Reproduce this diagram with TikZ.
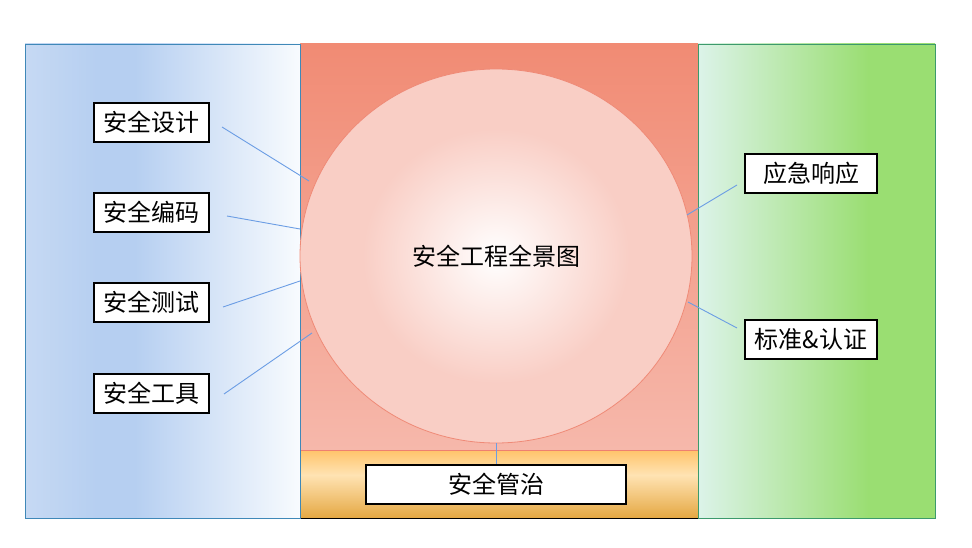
\documentclass[tikz,border=0pt]{standalone}
\usepackage{fontspec}
\setmainfont{Noto Sans CJK SC}
\usetikzlibrary{shapes.geometric}
\definecolor{lpA}{HTML}{C6D9F3}
\definecolor{lpB}{HTML}{B6CFF1}
\definecolor{lpC}{HTML}{F8FBFE}
\definecolor{rpA}{HTML}{DCF3E9}
\definecolor{rpB}{HTML}{9ADE72}
\definecolor{redtop}{HTML}{F18B74}
\definecolor{redbot}{HTML}{F6B8AB}
\definecolor{otop}{HTML}{FFC46A}
\definecolor{omid}{HTML}{FFE3B3}
\definecolor{obot}{HTML}{E5A843}
\definecolor{cedge}{HTML}{F9CEC5}
\definecolor{cborder}{HTML}{EF8A77}
\definecolor{lineblue}{HTML}{6B9DE4}
\definecolor{lborder}{HTML}{3F88B8}
\definecolor{rborder}{HTML}{3C9A6C}
\definecolor{divred}{HTML}{EE8070}
\pgfdeclarehorizontalshading{leftpanel}{100bp}{color(0bp)=(lpA); color(25bp)=(lpA); color(38bp)=(lpB); color(45bp)=(lpB); color(75bp)=(lpC); color(100bp)=(lpC)}
\pgfdeclarehorizontalshading{rightpanel}{100bp}{color(0bp)=(rpA); color(25bp)=(rpA); color(61bp)=(rpB); color(75bp)=(rpB); color(100bp)=(rpB)}
\pgfdeclareverticalshading{orangeband}{100bp}{color(0bp)=(obot); color(25bp)=(obot); color(56.6bp)=(omid); color(75bp)=(otop); color(100bp)=(otop)}
\pgfdeclareradialshading{bubble}{\pgfpoint{0bp}{0bp}}{color(0bp)=(white); color(17bp)=(cedge); color(25bp)=(cedge); color(50bp)=(cedge)}
\tikzset{
  labelbox/.style={draw=black, fill=white, line width=1.1pt, minimum height=39pt, inner sep=0pt, font=\fontsize{24}{28}\selectfont},
  link/.style={draw=lineblue, line width=0.9pt}
}
\begin{document}
\begin{tikzpicture}[x=1pt,y=-1pt]
\useasboundingbox (0,0) rectangle (972,548);
% middle panel
\path[top color=redtop, bottom color=redbot] (300,44) rectangle (698,450);
\path[shading=orangeband] (300,450) rectangle (698,518);
\draw[divred, line width=0.8pt] (300,450) -- (698,450);
\draw[black, line width=1pt] (300,518) -- (698,518);
% side panels
\draw[shading=leftpanel, draw=lborder, line width=0.9pt] (25,44) rectangle (300,518);
\draw[shading=rightpanel, draw=rborder, line width=0.9pt] (698,44) rectangle (935,518);
% hub
\node (hub) [ellipse, draw=cborder, line width=0.8pt, shading=bubble, minimum width=392pt, minimum height=374pt, inner sep=0pt, font=\fontsize{24}{28}\selectfont] at (496,256) {安全工程全景图};
% boxes
\node (design) [labelbox, minimum width=115pt] at (151.5,122.5) {安全设计};
\node (coding) [labelbox, minimum width=115pt] at (151.5,212.5) {安全编码};
\node (testing) [labelbox, minimum width=115pt] at (151.5,302.5) {安全测试};
\node (tools) [labelbox, minimum width=115pt] at (151.5,393.5) {安全工具};
\node (resp) [labelbox, minimum width=132pt] at (811,173.5) {应急响应};
\node (std) [labelbox, minimum width=132pt] at (811,339.5) {标准\&认证};
\node (gov) [labelbox, minimum width=260pt] at (496,484.5) {安全管治};
% connector ends
\coordinate (d1) at (222,127); \coordinate (d2) at (309,181);
\coordinate (c1) at (227,216); \coordinate (c2) at (300,229);
\coordinate (t1) at (223,307); \coordinate (t2) at (300,281);
\coordinate (k1) at (224,394); \coordinate (k2) at (312,333);
\coordinate (r1) at (737,185); \coordinate (r2) at (687,215);
\coordinate (s1) at (737,328); \coordinate (s2) at (688,302);
\draw[link] (d1) -- (d2);
\draw[link] (c1) -- (c2);
\draw[link] (t1) -- (t2);
\draw[link] (k1) -- (k2);
\draw[link] (r1) -- (r2);
\draw[link] (s1) -- (s2);
\draw[link] (hub.south) -- (gov.north);
\end{tikzpicture}
\end{document}
